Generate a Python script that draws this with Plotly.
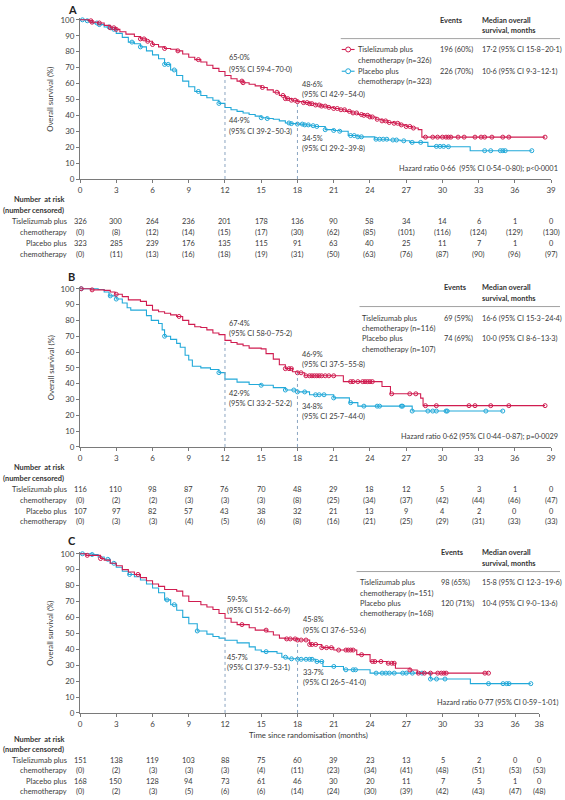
import bisect
import plotly.graph_objects as go

# ---------------- DATA ----------------
ticks_AB = [0, 3, 6, 9, 12, 15, 18, 21, 24, 27, 30, 33, 36, 39]
ticks_C = [0, 3, 6, 9, 12, 15, 18, 21, 24, 27, 30, 33, 36, 38]
y_ticks = [0, 10, 20, 30, 40, 50, 60, 70, 80, 90, 100]

# Panel A
A_tis_t = [0, 0.7, 1.0, 1.5, 2.0, 2.5, 3.0, 3.3, 3.8, 4.5, 5.0, 5.5, 6.0, 6.5, 7.0, 7.5, 8.0, 8.5, 9.0, 9.5,
           10.0, 10.5, 11.0, 11.5, 12.0, 12.5, 13.0, 13.5, 14.0, 14.5, 15.0, 15.5, 16.0, 16.5, 17.0, 17.5,
           18.0, 18.5, 19.0, 19.5, 20.0, 20.5, 21.0, 21.5, 22.0, 22.5, 23.0, 23.5, 24.0, 24.5, 25.0, 25.5,
           26.0, 26.5, 27.0, 27.5, 28.0, 28.3, 38.5]
A_tis_s = [100, 99.4, 98.5, 98, 96.5, 95, 94, 92.5, 91, 89.5, 88, 86.5, 84.5, 83, 82, 81.5, 80.5, 78.5, 76.5, 75,
           73.5, 71.5, 69.5, 67.5, 65, 63, 61.5, 60.5, 59.5, 58.5, 57.5, 56, 54.5, 52.5, 50.5, 49.5,
           48.6, 48, 47.3, 46.5, 45.8, 45, 44.3, 43.5, 42.5, 41.5, 40.5, 40, 39, 37.5, 36.5, 35.5,
           35, 34, 33, 32, 31, 26.3, 26.3]
A_tis_cens = [0.9, 1.0, 1.6, 2.5, 2.8, 3.0, 5.0, 5.3, 5.6, 6.0, 7.0, 8.1, 9.8, 13.4, 13.5, 15.1, 16.3, 16.8,
              17.0, 17.2, 17.5, 17.8, 18.0, 18.5, 18.8, 19.0, 19.2, 19.5, 19.8, 20.0, 20.3, 20.6, 21.0, 21.3,
              21.6, 21.9, 22.3, 22.6, 22.9, 23.3, 23.5, 23.8, 24.0, 24.2, 24.6, 25.0, 25.3, 25.6, 26.0, 26.3,
              26.6, 27.0, 27.3, 27.6, 28.6, 29.2, 29.6, 30.0, 30.3, 30.5, 30.7, 31.3, 31.8, 32.7, 33.2, 33.5,
              34.1, 35.0, 35.5, 38.5]
A_pla_t = [0, 0.6, 1.0, 1.5, 2.0, 2.5, 3.0, 3.5, 4.0, 4.5, 5.0, 5.5, 6.0, 6.5, 7.0, 7.5, 8.0, 8.5, 9.0, 9.5,
           10.0, 10.5, 11.0, 11.5, 12.0, 12.5, 13.0, 13.5, 14.0, 14.5, 15.0, 15.5, 16.0, 16.5, 17.0, 17.5,
           18.0, 18.5, 19.0, 19.5, 20.3, 21.0, 21.5, 22.2, 23.0, 24.4, 25.5, 26.5, 27.3, 28.8, 30.5, 32.3, 37.4]
A_pla_s = [100, 99.4, 98, 97, 95.5, 94, 91.5, 89, 86, 85, 83, 80.5, 78, 75.5, 72, 68.5, 65, 61.5, 58, 55,
           52.5, 51, 49.5, 47.5, 44.9, 43.5, 42.5, 41.5, 40.5, 39.5, 38.5, 38, 37.5, 36.5, 35.2, 34.8,
           34.5, 34, 33.5, 33, 31, 30.5, 30, 27.3, 26.5, 25, 24.5, 24, 23, 20.5, 20.3, 17.8, 17.8]
A_pla_cens = [0.2, 0.6, 1.4, 1.6, 2.4, 2.8, 4.3, 5.0, 7.0, 7.3, 7.8, 9.8, 11.5, 15.0, 15.5, 17.3, 17.5, 18.0,
              18.4, 18.6, 18.9, 19.3, 19.6, 20.3, 21.0, 21.5, 22.4, 22.7, 23.0, 23.3, 24.5, 24.8, 25.1, 25.4,
              25.9, 26.2, 26.8, 27.5, 28.2, 29.5, 29.8, 30.1, 30.5, 33.5, 34.0, 34.8, 35.0, 35.2, 37.4]
A_risk_tis = [326, 300, 264, 236, 201, 178, 136, 90, 58, 34, 14, 6, 1, 0]
A_cens_tis = [0, 8, 12, 14, 15, 17, 30, 62, 85, 101, 116, 124, 129, 130]
A_risk_pla = [323, 285, 239, 176, 135, 115, 91, 63, 40, 25, 11, 7, 1, 0]
A_cens_pla = [0, 11, 13, 16, 18, 19, 31, 50, 63, 76, 87, 90, 96, 97]
A_lm_tis = [65.0, 48.6]
A_lm_tis_ci = ["59·4–70·0", "42·9–54·0"]
A_lm_pla = [44.9, 34.5]
A_lm_pla_ci = ["39·2–50·3", "29·2–39·8"]
A_n = [326, 323]
A_events = ["196 (60%)", "226 (70%)"]
A_median = ["17·2 (95% CI 15·8–20·1)", "10·6 (95% CI 9·3–12·1)"]
A_hr = "Hazard ratio 0·66  (95% CI 0·54–0·80); p<0·0001"

# Panel B
B_tis_t = [0, 0.9, 2.0, 2.5, 2.9, 3.5, 4.0, 5.0, 5.5, 6.0, 6.5, 7.0, 7.5, 8.0, 8.5, 9.0, 9.5, 10.0, 10.5,
           11.0, 11.5, 12.0, 12.5, 13.0, 13.5, 14.0, 15.0, 15.4, 16.0, 16.5, 17.0, 17.6, 18.0, 18.6, 21.8,
           25.0, 25.7, 28.2, 28.4, 38.5]
B_tis_s = [100, 99.3, 99, 98, 96.5, 95, 93, 92, 89.5, 86.5, 85.5, 84.5, 83.5, 82.5, 80, 77.5, 76, 75.5, 74,
           72, 71, 67.4, 66, 65, 64, 62.5, 62, 59, 55.5, 52, 49.5, 47.5, 46.9, 45, 41.3,
           38.2, 33.6, 30.9, 26.1, 26.1]
B_tis_cens = [0.1, 1.0, 3.0, 8.2, 17.0, 17.3, 17.5, 18.0, 18.3, 18.7, 19.0, 19.2, 19.4, 19.6, 19.8, 20.0,
              20.3, 20.6, 21.0, 22.4, 22.6, 23.0, 23.4, 23.6, 23.8, 24.0, 24.2, 25.8, 27.3, 27.8, 28.6, 29.5,
              32.2, 32.7, 34.0, 35.5, 38.5]
B_pla_t = [0, 1.5, 2.0, 2.4, 3.0, 3.5, 3.9, 4.2, 5.5, 5.9, 6.5, 6.8, 7.0, 7.5, 8.0, 8.3, 8.7, 9.0, 9.3,
           10.0, 10.8, 11.5, 12.0, 13.0, 14.0, 15.0, 16.0, 17.0, 18.0, 19.0, 21.0, 22.3, 23.0, 27.5, 35.0]
B_pla_s = [100, 99.5, 98, 95.5, 93.5, 91, 88, 86.5, 83, 80, 78, 74, 70, 68, 65.5, 63, 58, 55, 51,
           50, 49, 47, 42.9, 41, 39.5, 39, 37.5, 36, 34.8, 33, 31, 28, 25.8, 22.7, 22.7]
B_pla_cens = [0.1, 2.5, 3.0, 7.0, 11.5, 15.0, 17.0, 17.7, 18.0, 18.6, 19.5, 19.8, 20.2, 21.0, 22.4, 23.5,
              24.6, 24.8, 26.6, 26.7, 27.5, 28.8, 29.2, 29.5, 30.3, 30.4, 33.6, 35.0]
B_risk_tis = [116, 110, 98, 87, 76, 70, 48, 29, 18, 12, 5, 3, 1, 0]
B_cens_tis = [0, 2, 2, 3, 3, 3, 8, 25, 34, 37, 42, 44, 46, 47]
B_risk_pla = [107, 97, 82, 57, 43, 38, 32, 21, 13, 9, 4, 2, 0, 0]
B_cens_pla = [0, 3, 3, 4, 5, 6, 8, 16, 21, 25, 29, 31, 33, 33]
B_lm_tis = [67.4, 46.9]
B_lm_tis_ci = ["58·0–75·2", "37·5–55·8"]
B_lm_pla = [42.9, 34.8]
B_lm_pla_ci = ["33·2–52·2", "25·7–44·0"]
B_n = [116, 107]
B_events = ["69 (59%)", "74 (69%)"]
B_median = ["16·6 (95% CI 15·3–24·4)", "10·0 (95% CI 8·6–13·3)"]
B_hr = "Hazard ratio 0·62 (95% CI 0·44–0·87); p=0·0029"

# Panel C
C_tis_t = [0, 0.5, 1.7, 2.0, 2.5, 3.0, 3.5, 4.0, 4.5, 5.0, 5.5, 6.0, 6.5, 7.0, 8.0, 8.5, 9.0, 10.0, 10.5,
           11.0, 11.5, 12.0, 12.5, 13.0, 14.0, 14.5, 15.5, 16.0, 16.5, 17.0, 18.0, 19.0, 20.0, 21.0, 22.9,
           24.0, 25.4, 26.1, 27.3, 27.9, 33.8]
C_tis_s = [100, 99, 97, 96, 94, 92.5, 90, 88.5, 87, 85, 83, 81, 79.5, 77.5, 76.5, 73.5, 70, 68, 66.5,
           65, 62.5, 59.5, 57, 55.5, 53.5, 52, 51, 49, 47, 46.5, 45.8, 43, 41, 39.5, 36.6,
           32.3, 31.2, 28.1, 27, 25, 25]
C_tis_cens = [0.6, 1.7, 4.8, 13.4, 15.4, 17.1, 17.4, 17.8, 18.0, 18.3, 18.7, 19.0, 19.2, 19.5, 20.0, 20.4,
              20.8, 21.4, 22.0, 22.2, 22.4, 22.6, 23.3, 24.2, 24.4, 24.9, 25.5, 25.8, 26.0, 27.3, 28.0, 28.5,
              29.0, 29.6, 29.9, 30.1, 30.3, 33.5, 33.8]
C_pla_t = [0, 1.0, 1.5, 2.0, 2.5, 3.0, 3.5, 4.0, 4.5, 5.0, 5.5, 6.0, 6.5, 7.0, 7.5, 8.0, 8.5, 9.0, 9.7,
           10.5, 11.0, 11.5, 12.0, 13.0, 14.0, 14.5, 15.0, 16.3, 16.7, 17.2, 18.0, 19.5, 20.1, 21.8, 24.0,
           29.0, 32.3, 37.3]
C_pla_s = [100, 99.5, 98, 96.5, 94, 91.5, 89, 87, 85.5, 83.5, 81, 78.5, 75.5, 71, 68, 64.5, 60, 56, 51.5,
           49.5, 48, 47, 45.7, 44, 41.5, 39.5, 38.5, 37.5, 35, 34, 33.7, 32.3, 29.2, 27.1, 25,
           21.3, 18.4, 18.4]
C_pla_cens = [0.2, 1.0, 2.3, 2.8, 4.1, 7.2, 7.8, 9.7, 15.4, 17.0, 17.5, 18.0, 18.3, 18.7, 19.0, 19.2, 19.6,
              20.0, 21.0, 22.0, 22.6, 22.8, 24.5, 25.0, 25.3, 25.6, 26.0, 26.7, 27.0, 27.5, 28.3, 29.0, 29.5,
              30.2, 33.8, 35.0, 35.3, 35.5, 37.3]
C_risk_tis = [151, 138, 119, 103, 88, 75, 60, 39, 23, 13, 5, 2, 0, 0]
C_cens_tis = [0, 2, 3, 3, 3, 4, 11, 23, 34, 41, 48, 51, 53, 53]
C_risk_pla = [168, 150, 128, 94, 73, 61, 46, 30, 20, 11, 7, 5, 1, 0]
C_cens_pla = [0, 2, 3, 5, 6, 6, 14, 24, 30, 39, 42, 43, 47, 48]
C_lm_tis = [59.5, 45.8]
C_lm_tis_ci = ["51·2–66·9", "37·6–53·6"]
C_lm_pla = [45.7, 33.7]
C_lm_pla_ci = ["37·9–53·1", "26·5–41·0"]
C_n = [151, 168]
C_events = ["98 (65%)", "120 (71%)"]
C_median = ["15·8 (95% CI 12·3–19·6)", "10·4 (95% CI 9·0–13·6)"]
C_hr = "Hazard ratio 0·77 (95% CI 0·59–1·01)"

landmark_months = [12, 18]
arm_names = [["Tislelizumab plus", "chemotherapy"], ["Placebo plus", "chemotherapy"]]

# ---------------- STYLE / LAYOUT ----------------
W, H = 565, 800
FONT = "Lato, 'Open Sans', sans-serif"
RED = "#d01c50"
BLUE = "#22a9d9"
TXT = "#3a3a3a"
AXC = "#7a7a7a"
FS = 7.4


def fx(p):
    return p / W


def fy(p):
    return 1 - p / H


def step_at(ts, ss, c):
    i = bisect.bisect_right(ts, c) - 1
    return ss[max(i, 0)]


def fmt_pct(v):
    return f"{v:.1f}%".replace(".", "·")


fig = go.Figure()


def ann(x, y, text, xanchor="left", size=FS, color=TXT, bold=False, xref="paper", xshift=0, angle=0):
    if bold:
        text = f"<b>{text}</b>"
    fig.add_annotation(x=x, y=y, xref=xref, yref="paper", text=text, showarrow=False,
                       xanchor=xanchor, yanchor="middle", xshift=xshift, textangle=angle,
                       borderpad=0, font=dict(size=size, color=color, family=FONT))


panels = [
    dict(xid="x", yid="y", letter="A", ticks=ticks_AB, xmax=39, xl=79, xr=556, p0=177, p100=16,
         tis=(A_tis_t, A_tis_s, A_tis_cens), pla=(A_pla_t, A_pla_s, A_pla_cens),
         risk=(A_risk_tis, A_cens_tis, A_risk_pla, A_cens_pla),
         lm=(A_lm_tis, A_lm_tis_ci, A_lm_pla, A_lm_pla_ci), n=A_n, ev=A_events, med=A_median, hr=A_hr,
         lm_y=[(54, 66), (81, 92), (118, 129), (136, 146)], lm_dx=[3, 4],
         head_y=(17, 27), line_y=35, line_x0=343, rows_y=[46, 57, 68, 78], name_x=359, ev_x=442, med_x=485,
         symbols=True, hr_y=166, letter_y=6,
         risk_y=[198, 209, 220, 231, 242, 253], xtitle=False),
    dict(xid="x2", yid="y2", letter="B", ticks=ticks_AB, xmax=39, xl=79, xr=556, p0=448, p100=288,
         tis=(B_tis_t, B_tis_s, B_tis_cens), pla=(B_pla_t, B_pla_s, B_pla_cens),
         risk=(B_risk_tis, B_cens_tis, B_risk_pla, B_cens_pla),
         lm=(B_lm_tis, B_lm_tis_ci, B_lm_pla, B_lm_pla_ci), n=B_n, ev=B_events, med=B_median, hr=B_hr,
         lm_y=[(323, 333), (354, 365), (394, 404), (407, 417)], lm_dx=[3, 4],
         head_y=(287, 298), line_y=306, line_x0=362, rows_y=[318, 328, 338, 349], name_x=363, ev_x=447,
         med_x=485, symbols=False, hr_y=437, letter_y=276,
         risk_y=[469, 480, 491, 502, 513, 523], xtitle=False),
    dict(xid="x3", yid="y3", letter="C", ticks=ticks_C, xmax=38, xl=79, xr=544, p0=717, p100=556,
         tis=(C_tis_t, C_tis_s, C_tis_cens), pla=(C_pla_t, C_pla_s, C_pla_cens),
         risk=(C_risk_tis, C_cens_tis, C_risk_pla, C_cens_pla),
         lm=(C_lm_tis, C_lm_tis_ci, C_lm_pla, C_lm_pla_ci), n=C_n, ev=C_events, med=C_median, hr=C_hr,
         lm_y=[(602, 613), (623, 634), (661, 671), (676, 686)], lm_dx=[1, 4],
         head_y=(555, 566), line_y=574, line_x0=359, rows_y=[585, 596, 606, 616], name_x=361, ev_x=444,
         med_x=485, symbols=False, hr_y=706, letter_y=543,
         risk_y=[744, 754, 765, 775, 786, 796], xtitle=True),
]

layout_axes = {}
for k, P in enumerate(panels):
    suffix = "" if k == 0 else str(k + 1)
    scale = (P["p0"] - P["p100"]) / 100.0
    ytop_px = P["p100"] - 1.0 * scale  # range goes to 101
    layout_axes["xaxis" + suffix] = dict(
        domain=[fx(P["xl"]), fx(P["xr"])], range=[0, P["xmax"]], anchor=P["yid"],
        tickvals=P["ticks"], ticktext=[str(t) for t in P["ticks"]], ticks="outside", ticklen=3,
        tickcolor=AXC, tickwidth=1, showline=True, linecolor=AXC, linewidth=1, showgrid=False,
        zeroline=False, tickfont=dict(size=8, color="#444", family=FONT), fixedrange=True)
    layout_axes["yaxis" + suffix] = dict(
        domain=[fy(P["p0"]), fy(ytop_px)], range=[0, 101], anchor=P["xid"],
        tickvals=y_ticks, ticks="outside", ticklen=3, tickcolor=AXC, tickwidth=1, showline=True,
        linecolor=AXC, linewidth=1, showgrid=False, zeroline=False,
        tickfont=dict(size=8, color="#444", family=FONT), fixedrange=True)

    # curves
    for (ts, ss, cens), col in ((P["pla"], BLUE), (P["tis"], RED)):
        fig.add_trace(go.Scatter(x=ts, y=ss, mode="lines", line=dict(color=col, width=1.1, shape="hv"),
                                 xaxis=P["xid"], yaxis=P["yid"], showlegend=False, hoverinfo="skip"))
        fig.add_trace(go.Scatter(x=cens, y=[step_at(ts, ss, c) for c in cens], mode="markers",
                                 marker=dict(symbol="circle-open", size=4, color=col, line=dict(width=1)),
                                 xaxis=P["xid"], yaxis=P["yid"], showlegend=False, hoverinfo="skip",
                                 cliponaxis=False))

    # landmark dotted lines
    lm_tis, lm_tis_ci, lm_pla, lm_pla_ci = P["lm"]
    for j, m in enumerate(landmark_months):
        fig.add_shape(type="line", xref=P["xid"], yref=P["yid"], x0=m, x1=m, y0=0, y1=lm_tis[j],
                      line=dict(color="#8aa4c0", width=1, dash="dot"))
    # landmark labels
    pos = P["lm_y"]
    for j, m in enumerate(landmark_months):
        yy_t = pos[j]        # tis label
        yy_p = pos[2 + j]    # pla label
        ann(m, fy(yy_t[0]), fmt_pct(lm_tis[j]), xref=P["xid"], xshift=P["lm_dx"][j])
        ann(m, fy(yy_t[1]), f"(95% CI {lm_tis_ci[j]})", xref=P["xid"], xshift=P["lm_dx"][j])
        ann(m, fy(yy_p[0]), fmt_pct(lm_pla[j]), xref=P["xid"], xshift=P["lm_dx"][j])
        ann(m, fy(yy_p[1]), f"(95% CI {lm_pla_ci[j]})", xref=P["xid"], xshift=P["lm_dx"][j])

    # panel letter
    ann(fx(66), fy(P["letter_y"]), P["letter"], size=11, bold=True, color="#222")

    # y title
    ann(fx(49), fy((P["p0"] + P["p100"]) / 2), "Overall survival (%)", xanchor="center", angle=-90,
        size=7.8)

    # legend table
    ann(fx(P["ev_x"]), fy(P["head_y"][0]), "Events", bold=True, color="#333")
    ann(fx(P["med_x"]), fy(P["head_y"][0]), "Median overall", bold=True, color="#333")
    ann(fx(P["med_x"]), fy(P["head_y"][1]), "survival, months", bold=True, color="#333")
    fig.add_shape(type="line", xref="paper", yref="paper", x0=fx(P["line_x0"]), x1=fx(565),
                  y0=fy(P["line_y"]), y1=fy(P["line_y"]), line=dict(color="#8a8a8a", width=0.8))
    ry = P["rows_y"]
    for a in range(2):
        ann(fx(P["name_x"]), fy(ry[2 * a]), arm_names[a][0])
        ann(fx(P["name_x"]), fy(ry[2 * a + 1]), f"{arm_names[a][1]} (n={P['n'][a]})")
        ann(fx(P["ev_x"]), fy(ry[2 * a]), P["ev"][a])
        ann(fx(P["med_x"]), fy(ry[2 * a]), P["med"][a])
        if P["symbols"]:
            col = RED if a == 0 else BLUE
            yc = ry[2 * a]
            fig.add_shape(type="line", xref="paper", yref="paper", x0=fx(344), x1=fx(357),
                          y0=fy(yc), y1=fy(yc), line=dict(color=col, width=1.1))
            fig.add_shape(type="circle", xref="paper", yref="paper", x0=fx(348), x1=fx(353),
                          y0=fy(yc + 2.5), y1=fy(yc - 2.5), line=dict(color=col, width=1),
                          fillcolor="white")

    # hazard ratio
    ann(fx(564), fy(P["hr_y"]), P["hr"], xanchor="right")

    # at-risk table
    rk = P["risk_y"]
    ann(fx(64), fy(rk[0]), "Number  at risk", xanchor="right", bold=True, color="#333")
    ann(fx(64), fy(rk[1]), "(number censored)", xanchor="right", bold=True, color="#333")
    rt, ct, rp, cp = P["risk"]
    row_sets = [(arm_names[0][0], rt, False), (arm_names[0][1], ct, True),
                (arm_names[1][0], rp, False), (arm_names[1][1], cp, True)]
    for r, (lab, vals, paren) in enumerate(row_sets):
        yy = fy(rk[2 + r])
        ann(fx(67), yy, lab, xanchor="right")
        for m, v in zip(P["ticks"], vals):
            ann(m, yy, f"({v})" if paren else str(v), xanchor="center", xref=P["xid"])

    if P["xtitle"]:
        ann(fx(310), fy(739), "Time since randomisation (months)", xanchor="center", size=7.8)

fig.update_layout(width=W, height=H, margin=dict(l=0, r=0, t=0, b=0), autosize=False,
                  paper_bgcolor="white", plot_bgcolor="white", showlegend=False,
                  font=dict(family=FONT, size=FS, color=TXT), **layout_axes)

fig.write_html("out.html")
